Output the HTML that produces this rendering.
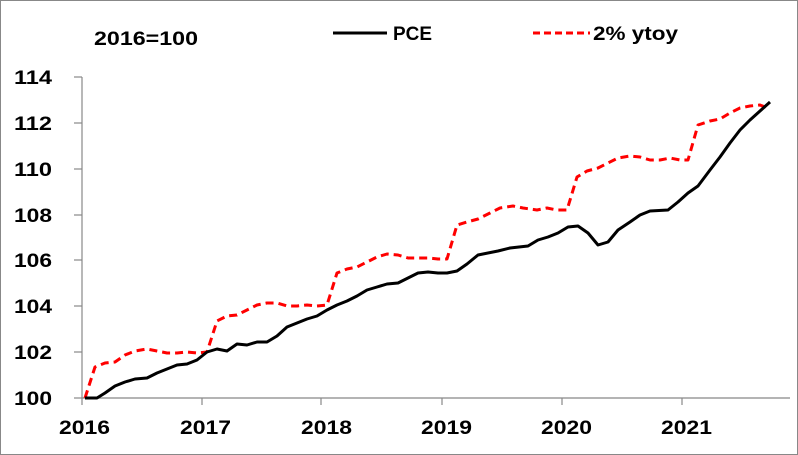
<!DOCTYPE html>
<html><head><style>
html,body{margin:0;padding:0;background:#fff}
svg{display:block}
text{font-family:"Liberation Sans",Arial,sans-serif;font-weight:bold;font-size:19px;fill:#000}
</style></head><body>
<svg width="798" height="455" viewBox="0 0 798 455">
<rect x="0.5" y="0.5" width="797" height="454" fill="#fff" stroke="#888" stroke-width="1"/>
<g stroke="#888" stroke-width="1.2" fill="none">
<line x1="82" y1="77" x2="82" y2="398"/>
<line x1="82" y1="398" x2="790" y2="398"/>
<line x1="74" y1="77" x2="82" y2="77"/>
<line x1="74" y1="123" x2="82" y2="123"/>
<line x1="74" y1="169" x2="82" y2="169"/>
<line x1="74" y1="215" x2="82" y2="215"/>
<line x1="74" y1="260" x2="82" y2="260"/>
<line x1="74" y1="306" x2="82" y2="306"/>
<line x1="74" y1="352" x2="82" y2="352"/>
<line x1="74" y1="398" x2="82" y2="398"/>
<line x1="82" y1="398" x2="82" y2="405"/>
<line x1="202" y1="398" x2="202" y2="405"/>
<line x1="321" y1="398" x2="321" y2="405"/>
<line x1="442" y1="398" x2="442" y2="405"/>
<line x1="562" y1="398" x2="562" y2="405"/>
<line x1="682" y1="398" x2="682" y2="405"/>
</g>
<g>
<text x="14" y="84" textLength="38" lengthAdjust="spacingAndGlyphs">114</text>
<text x="14" y="130" textLength="38" lengthAdjust="spacingAndGlyphs">112</text>
<text x="14" y="176" textLength="38" lengthAdjust="spacingAndGlyphs">110</text>
<text x="14" y="222" textLength="38" lengthAdjust="spacingAndGlyphs">108</text>
<text x="14" y="267" textLength="38" lengthAdjust="spacingAndGlyphs">106</text>
<text x="14" y="313" textLength="38" lengthAdjust="spacingAndGlyphs">104</text>
<text x="14" y="359" textLength="38" lengthAdjust="spacingAndGlyphs">102</text>
<text x="14" y="405" textLength="38" lengthAdjust="spacingAndGlyphs">100</text>
</g>
<g>
<text x="59" y="434" textLength="51" lengthAdjust="spacingAndGlyphs">2016</text>
<text x="180" y="434" textLength="51" lengthAdjust="spacingAndGlyphs">2017</text>
<text x="301" y="434" textLength="51" lengthAdjust="spacingAndGlyphs">2018</text>
<text x="421" y="434" textLength="51" lengthAdjust="spacingAndGlyphs">2019</text>
<text x="541" y="434" textLength="51" lengthAdjust="spacingAndGlyphs">2020</text>
<text x="661" y="434" textLength="51" lengthAdjust="spacingAndGlyphs">2021</text>
</g>
<text x="94" y="45" textLength="104" lengthAdjust="spacingAndGlyphs">2016=100</text>
<line x1="333" y1="33" x2="387" y2="33" stroke="#000" stroke-width="3"/>
<text x="393" y="40" textLength="39" lengthAdjust="spacingAndGlyphs">PCE</text>
<line x1="533" y1="33" x2="590" y2="33" stroke="#f00" stroke-width="3" stroke-dasharray="7,4"/>
<text x="593" y="40" textLength="85" lengthAdjust="spacingAndGlyphs">2% ytoy</text>
<polyline fill="none" stroke="#f00" stroke-width="3" stroke-dasharray="8,5" stroke-linejoin="round" points="85,398 95,367 105,363 115,362 125,355 135,351 147,349 157,351 167,353 177,353 187,352 197,353 207,352 217,321 227,316 237,315 247,310 257,305 267,303 277,303 287,306 297,306 307,305 317,306 327,305 337,273 347,269 357,267 367,262 377,257 387,254 398,255 408,258 418,258 428,258 438,259 447,259 457,225 467,222 478,219 490,213 500,208 513,206 523,208 537,210 547,208 557,210 567,210 577,177 587,171 598,168 608,163 618,158 630,156 640,157 650,160 660,160 670,158 680,160 688,160 698,125 710,121 720,119 730,113 740,108 750,106 760,105 770,109"/>
<polyline fill="none" stroke="#000" stroke-width="3" stroke-linejoin="round" points="85,398 97,398 105,393 115,386 125,382 135,379 147,378 157,373 167,369 177,365 187,364 197,360 207,352 217,349 227,351 237,344 247,345 257,342 267,342 277,336 287,327 297,323 307,319 317,316 327,310 337,305 347,301 357,296 367,290 377,287 387,284 398,283 408,278 418,273 428,272 438,273 447,273 457,271 467,264 478,255 498,251 510,248 528,246 538,240 548,237 558,233 568,227 578,226 588,233 598,245 608,242 618,230 630,222 640,215 650,211 668,210 678,202 688,193 698,186 710,170 720,157 730,143 740,130 750,120 760,111 770,102"/>
</svg>
</body></html>
